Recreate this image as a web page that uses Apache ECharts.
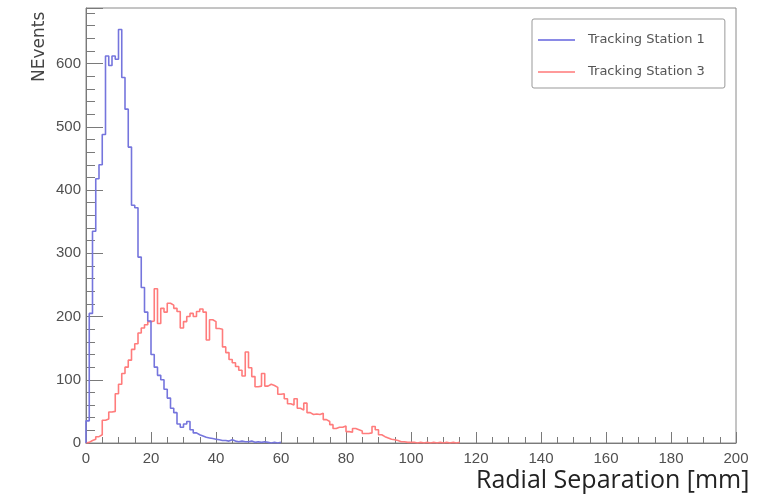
<!DOCTYPE html>
<html>
<head>
<meta charset="utf-8">
<script src="https://cdn.jsdelivr.net/npm/echarts@6/dist/echarts.min.js"></script>
<style>
  html, body { margin: 0; padding: 0; background: #ffffff; }
  #chart { width: 779px; height: 496px; }
</style>
</head>
<body>
<div id="chart"></div>
<script>
// Histogram binning: 1 mm bins starting at 0 mm
const binWidth = 1;

// Entries per 1 mm bin, Tracking Station 1
const station1Counts = [
  35, 205, 335, 418, 440, 488, 612, 597, 612, 607,
  654, 578, 528, 468, 376, 372, 294, 246, 207, 193,
  140, 120, 107, 100, 85, 71, 55, 48, 30, 25,
  30, 34, 21, 16, 13, 11, 9, 8, 7, 6,
  5, 4, 4, 3, 5, 3, 2, 3, 2, 2,
  3, 1, 2, 1, 2, 1, 0, 1, 0, 1
];

// Entries per 1 mm bin, Tracking Station 3
const station3Counts = [
  1, 4, 6, 10, 13, 36, 38, 49, 50, 78,
  93, 110, 120, 131, 148, 157, 174, 182, 187, 192,
  193, 244, 189, 213, 207, 221, 218, 213, 208, 182,
  192, 200, 205, 200, 208, 212, 207, 163, 195, 192,
  181, 180, 152, 143, 132, 127, 121, 115, 106, 144,
  119, 105, 89, 90, 110, 90, 93, 91, 88, 77,
  78, 70, 62, 60, 70, 55, 52, 63, 48, 45,
  46, 45, 47, 37, 34, 29, 23, 25, 25, 27,
  18, 17, 23, 21, 19, 15, 15, 16, 26, 21,
  13, 10, 8, 6, 5, 4, 2, 2, 1, 1,
  1, 0, 1, 0, 1, 0, 1, 0, 1, 0,
  1, 0, 1, 0, 1
];

const seriesNames = ['Tracking Station 1', 'Tracking Station 3'];
const xTickLabels = [0, 20, 40, 60, 80, 100, 120, 140, 160, 180, 200];
const yTickLabels = [0, 100, 200, 300, 400, 500, 600];
const xTitle = 'Radial Separation [mm]';
const yTitle = 'NEvents';

// Turn bin contents into step-line points at the bin edges
function histogramPoints(counts) {
  const pts = [[0, 0]];
  counts.forEach((c, i) => pts.push([i * binWidth, c]));
  const end = counts.length * binWidth;
  pts.push([end, counts[counts.length - 1]]);
  pts.push([end, 0]);
  return pts;
}

const chart = echarts.init(document.getElementById('chart'), null, { renderer: 'canvas' });

const axisGray = '#7a7a7a';
const labelFont = '"Liberation Sans", Arial, sans-serif';

chart.setOption({
  animation: false,
  backgroundColor: '#ffffff',
  grid: {
    left: 86, right: 43, top: 8, bottom: 53,
    show: true, borderColor: '#8a8a8a', borderWidth: 1, backgroundColor: 'transparent'
  },
  legend: {
    orient: 'vertical',
    left: 532, top: 19,
    padding: [13, 20, 8, 6],
    itemGap: 16,
    itemWidth: 37, itemHeight: 2,
    icon: 'rect',
    borderColor: '#999999', borderWidth: 1, borderRadius: 2,
    textStyle: { fontFamily: '"DejaVu Sans", sans-serif', fontSize: 13, color: '#555', padding: [0, 0, 0, 8], lineHeight: 16 },
    data: seriesNames
  },
  xAxis: {
    type: 'value', min: xTickLabels[0], max: xTickLabels[xTickLabels.length - 1], interval: 20,
    axisLine: { lineStyle: { color: axisGray, width: 1 } },
    axisTick: { inside: true, length: 11, lineStyle: { color: axisGray } },
    minorTick: { show: true, splitNumber: 4, length: 6, lineStyle: { color: axisGray } },
    splitLine: { show: false },
    axisLabel: { fontFamily: labelFont, fontSize: 15, color: '#505050', margin: 8 }
  },
  yAxis: {
    type: 'value', min: 0, max: 688, interval: 100,
    axisLine: { show: true, lineStyle: { color: axisGray, width: 1 } },
    axisTick: { show: true, inside: true, length: 17, lineStyle: { color: axisGray } },
    minorTick: { show: true, splitNumber: 5, length: 9, lineStyle: { color: axisGray } },
    splitLine: { show: false },
    axisLabel: {
      fontFamily: labelFont, fontSize: 15, color: '#505050', margin: 5,
      formatter: v => (yTickLabels.indexOf(v) >= 0 ? String(v) : '')
    }
  },
  graphic: [
    {
      type: 'text', left: 476, top: 468,
      style: { text: xTitle, font: '25px "Open Sans", sans-serif', fill: '#222' }
    },
    {
      type: 'text', x: 31, y: 82, rotation: Math.PI / 2,
      style: { text: yTitle, font: '17px "DejaVu Sans", sans-serif', fill: '#444', textVerticalAlign: 'top' }
    }
  ],
  series: [
    {
      name: seriesNames[0], type: 'line', step: 'end', showSymbol: false,
      data: histogramPoints(station1Counts),
      lineStyle: { color: '#7575dd', width: 1.6 }, itemStyle: { color: '#8a8ae6' }, z: 3
    },
    {
      name: seriesNames[1], type: 'line', step: 'end', showSymbol: false,
      data: histogramPoints(station3Counts),
      lineStyle: { color: '#ff7c7c', width: 1.6 }, itemStyle: { color: '#ff9a9a' }, z: 2
    }
  ]
});
</script>
</body>
</html>
